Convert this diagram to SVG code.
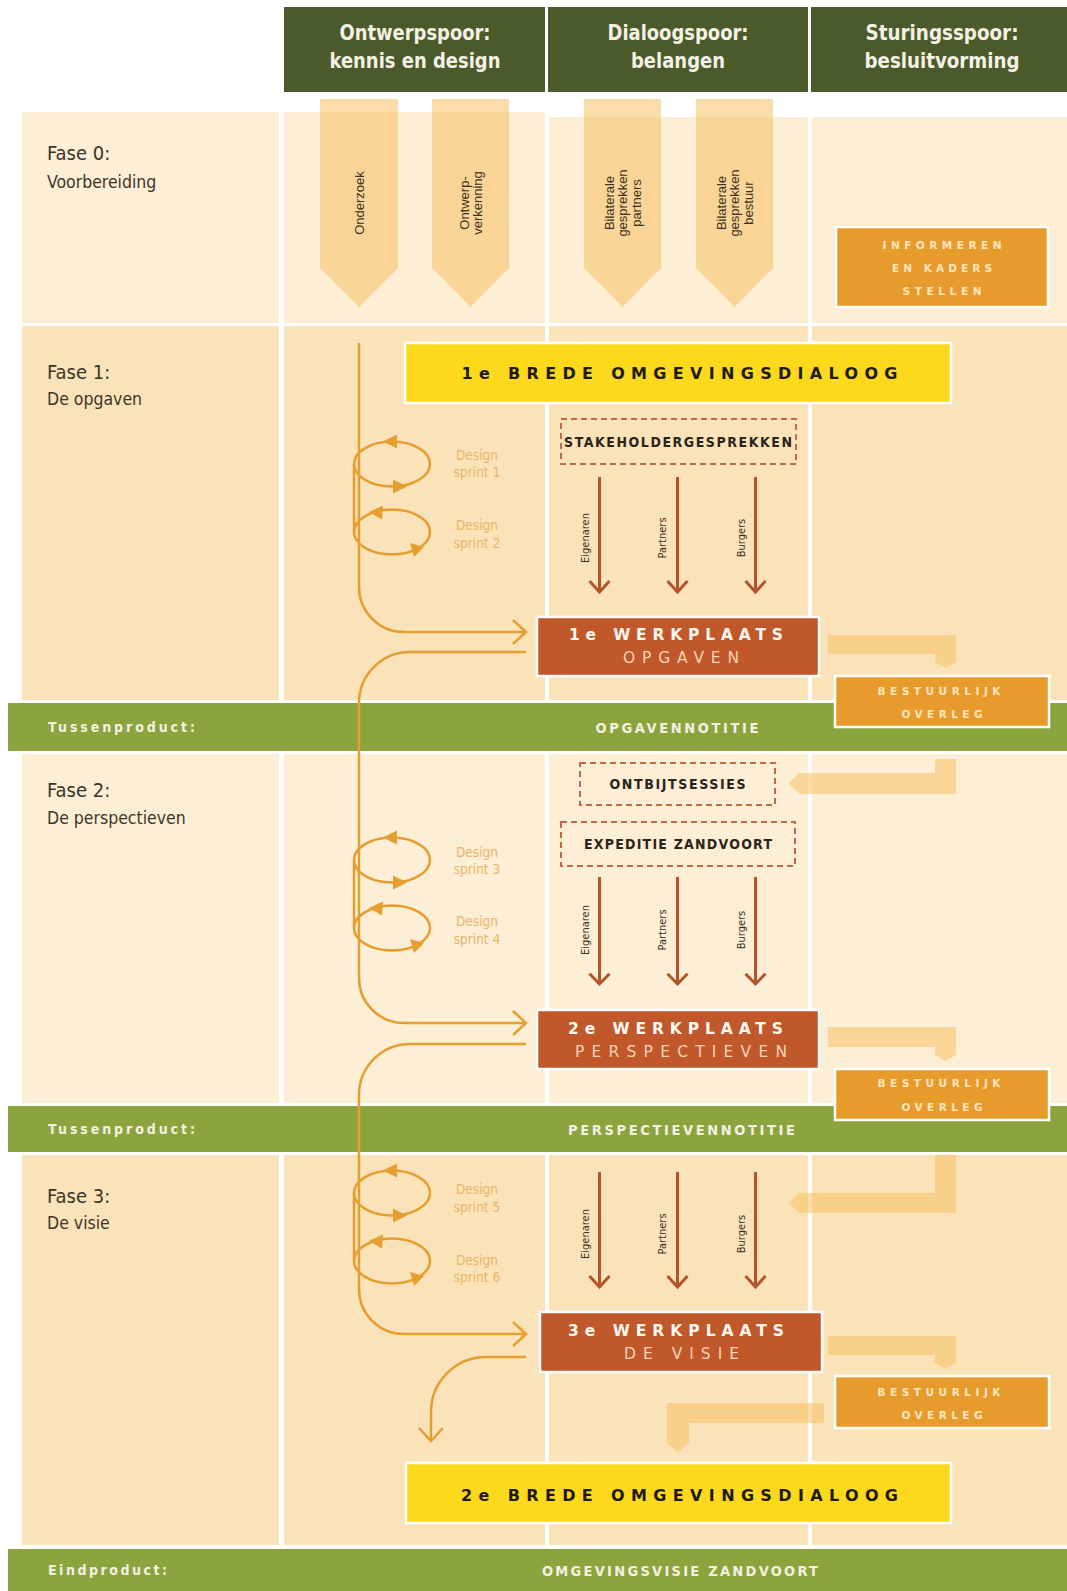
<svg xmlns="http://www.w3.org/2000/svg" width="1067" height="1591" viewBox="0 0 1067 1591">
<defs>
<style>
.l0{fill:#fdeed6}
.dk{fill:#fbe3b9}
.band{fill:#8ba43e}
.hdr{fill:#4b5a2b}
.hdrt{font-family:'DejaVu Sans Condensed','Liberation Sans',sans-serif;font-weight:bold;font-size:21px;fill:#f4f1e4;text-anchor:middle}
.bandt{font-family:'DejaVu Sans Condensed','Liberation Sans',sans-serif;font-weight:bold;font-size:14px;fill:#f3f1e2}
.bandc{font-size:14.5px;text-anchor:middle}
.fase{font-family:'DejaVu Sans Condensed','Liberation Sans',sans-serif;font-size:20px;fill:#3b3527}
.fsub{font-size:17.5px}
.ghost{fill:#f5c165;opacity:.55}
.ght{font-family:'Liberation Sans',Arial,sans-serif;font-size:13px;fill:#3b3020;text-anchor:middle}
.orbox{fill:#e89b2d;stroke:#fff;stroke-width:2.5}
.ort{font-family:'DejaVu Sans','Liberation Sans',sans-serif;font-weight:bold;font-size:10.5px;fill:#fde6bf;text-anchor:middle}
.ybox{fill:#fdd91d;stroke:#fff;stroke-width:2.5}
.yt{font-family:'DejaVu Sans','Liberation Sans',sans-serif;font-weight:bold;font-size:16px;fill:#1f1a10;text-anchor:middle}
.dash{fill:none;stroke:#bf6b47;stroke-width:2;stroke-dasharray:6 4}
.dt{font-family:'DejaVu Sans Condensed','Liberation Sans',sans-serif;font-weight:bold;font-size:14px;fill:#2a241a;text-anchor:middle}
.wp{fill:#c0582b;stroke:#fff;stroke-width:2.5}
.wt1{font-family:'DejaVu Sans','Liberation Sans',sans-serif;font-weight:bold;font-size:15.5px;fill:#fff8f0;text-anchor:middle}
.wt2{font-family:'DejaVu Sans','Liberation Sans',sans-serif;font-size:15.5px;fill:#f6d3b9;text-anchor:middle}
.flow{fill:none;stroke:#e59e2f;stroke-width:2.5}
.fh{fill:#e59e2f}
.br{fill:none;stroke:#b3542b;stroke-width:3}
.rot{font-family:'DejaVu Sans Condensed','Liberation Sans',sans-serif;font-size:11px;fill:#3b3020;text-anchor:middle}
.spr{font-family:'DejaVu Sans Condensed','Liberation Sans',sans-serif;font-size:13.5px;fill:#eab566;text-anchor:middle}
</style>
<g id="loopPair">
<ellipse class="flow" cx="392" cy="464" rx="38" ry="22.5"/>
<ellipse class="flow" cx="392" cy="532" rx="38" ry="22.5"/>
<path class="flow" d="M354,464 V532"/>
<path class="fh" d="M383,441.5 L397,434.5 L397,448.5 Z"/>
<path class="fh" d="M407,486.5 L393,479.5 L393,493.5 Z"/>
<path class="fh" d="M369,512 L383,505.5 L382,519.5 Z"/>
<path class="fh" d="M424,547 L410,543 L414,557 Z"/>
</g>
<g id="brownTrio">
<path class="br" d="M599.5,0 V115 M589.5,104 L599.5,115 L609.5,104"/>
<path class="br" d="M677.5,0 V115 M667.5,104 L677.5,115 L687.5,104"/>
<path class="br" d="M755.5,0 V115 M745.5,104 L755.5,115 L765.5,104"/>
</g>
</defs>
<rect width="1067" height="1591" fill="#fff"/>

<g id="backgrounds">
<rect class="l0" x="22" y="112" width="257" height="211"/>
<rect class="l0" x="284" y="112" width="261" height="211"/>
<rect class="l0" x="549" y="117" width="259" height="206"/>
<rect class="l0" x="812" y="117" width="255" height="206"/>
<rect class="dk" x="22" y="326" width="257" height="374"/>
<rect class="dk" x="284" y="326" width="261" height="374"/>
<rect class="dk" x="549" y="326" width="259" height="374"/>
<rect class="dk" x="812" y="326" width="255" height="374"/>
<rect class="l0" x="22" y="754" width="257" height="349"/>
<rect class="l0" x="284" y="754" width="261" height="349"/>
<rect class="l0" x="549" y="754" width="259" height="349"/>
<rect class="l0" x="812" y="754" width="255" height="349"/>
<rect class="dk" x="22" y="1155" width="257" height="390"/>
<rect class="dk" x="284" y="1155" width="261" height="390"/>
<rect class="dk" x="549" y="1155" width="259" height="390"/>
<rect class="dk" x="812" y="1155" width="255" height="390"/>
</g>

<g id="headers">
<rect class="hdr" x="284" y="7" width="261" height="85"/>
<rect class="hdr" x="548" y="7" width="260" height="85"/>
<rect class="hdr" x="811" y="7" width="256" height="85"/>
<text class="hdrt" x="415" y="40" textLength="151" lengthAdjust="spacingAndGlyphs">Ontwerpspoor:</text>
<text class="hdrt" x="415" y="68" textLength="171" lengthAdjust="spacingAndGlyphs">kennis en design</text>
<text class="hdrt" x="678" y="40" textLength="141" lengthAdjust="spacingAndGlyphs">Dialoogspoor:</text>
<text class="hdrt" x="678" y="68" textLength="94" lengthAdjust="spacingAndGlyphs">belangen</text>
<text class="hdrt" x="942" y="40" textLength="153" lengthAdjust="spacingAndGlyphs">Sturingsspoor:</text>
<text class="hdrt" x="942" y="68" textLength="155" lengthAdjust="spacingAndGlyphs">besluitvorming</text>
</g>

<g id="phase-labels">
<text class="fase" x="47" y="160">Fase 0:</text>
<text class="fase fsub" x="47" y="188">Voorbereiding</text>
<text class="fase" x="47" y="379">Fase 1:</text>
<text class="fase fsub" x="47" y="405">De opgaven</text>
<text class="fase" x="47" y="797">Fase 2:</text>
<text class="fase fsub" x="47" y="824">De perspectieven</text>
<text class="fase" x="47" y="1203">Fase 3:</text>
<text class="fase fsub" x="47" y="1229">De visie</text>
</g>

<g id="onderzoek">
<polygon class="ghost" points="320,99 398,99 398,268 359,307 320,268"/>
<text class="ght" transform="translate(359,203) rotate(-90)" y="4.5">Onderzoek</text>
</g>
<g id="ontwerpverkenning">
<polygon class="ghost" points="432,99 509,99 509,268 470.5,307 432,268"/>
<text class="ght" transform="translate(470.5,203) rotate(-90)"><tspan x="0" y="-2">Ontwerp-</tspan><tspan x="0" y="11.5">verkenning</tspan></text>
</g>
<g id="bilateraal-partners">
<polygon class="ghost" points="584,99 661,99 661,268 622.5,307 584,268"/>
<text class="ght" transform="translate(622.5,203) rotate(-90)"><tspan x="0" y="-9">Bilaterale</tspan><tspan x="0" y="4.5">gesprekken</tspan><tspan x="0" y="18">partners</tspan></text>
</g>
<g id="bilateraal-bestuur">
<polygon class="ghost" points="696,99 773,99 773,268 734.5,307 696,268"/>
<text class="ght" transform="translate(734.5,203) rotate(-90)"><tspan x="0" y="-9">Bilaterale</tspan><tspan x="0" y="4.5">gesprekken</tspan><tspan x="0" y="18">bestuur</tspan></text>
</g>

<g id="bands">
<rect class="band" x="8" y="703" width="1059" height="48"/>
<rect class="band" x="8" y="1106" width="1059" height="46"/>
<rect class="band" x="8" y="1549" width="1059" height="42"/>
<text class="bandt" x="48" y="732" textLength="147" lengthAdjust="spacing">Tussenproduct:</text>
<text class="bandt bandc" x="677" y="732.5" textLength="163" lengthAdjust="spacing">OPGAVENNOTITIE</text>
<text class="bandt" x="48" y="1134" textLength="147" lengthAdjust="spacing">Tussenproduct:</text>
<text class="bandt bandc" x="681.5" y="1134.5" textLength="227" lengthAdjust="spacing">PERSPECTIEVENNOTITIE</text>
<text class="bandt" x="48" y="1575" textLength="119" lengthAdjust="spacing">Eindproduct:</text>
<text class="bandt bandc" x="680" y="1575.5" textLength="276" lengthAdjust="spacing">OMGEVINGSVISIE ZANDVOORT</text>
</g>

<g id="connectors">
<polygon class="ghost" points="828,635 956,635 956,662 945.5,668 935,662 935,654 828,654"/>
<polygon class="ghost" points="935,759 956,759 956,794 799,794 789,783.5 799,773 935,773"/>
<polygon class="ghost" points="828,1027 956,1027 956,1055 945.5,1061 935,1055 935,1047 828,1047"/>
<polygon class="ghost" points="935,1155 956,1155 956,1213 799,1213 789,1203 799,1193 935,1193"/>
<polygon class="ghost" points="828,1336 956,1336 956,1363 945.5,1369 935,1363 935,1355 828,1355"/>
<polygon class="ghost" points="824,1403 824,1423 689,1423 689,1443 678,1452 667,1443 667,1403"/>
<path class="flow" d="M359,343 V587 A45,45 0 0 0 404,632 H524 M513,620 L526,632 L513,644"/>
<path class="flow" d="M526,652 H410 A51,51 0 0 0 359,703 V978 A45,45 0 0 0 404,1023 H524 M513,1011 L526,1023 L513,1035"/>
<path class="flow" d="M526,1044 H410 A51,51 0 0 0 359,1095 V1289 A45,45 0 0 0 404,1334 H524 M513,1322 L526,1334 L513,1346"/>
<path class="flow" d="M526,1357 H486 A55,55 0 0 0 431,1412 V1440 M419,1428 L431,1441 L443,1428"/>
<use href="#loopPair"/>
<use href="#loopPair" transform="translate(0,396)"/>
<use href="#loopPair" transform="translate(0,729)"/>
<use href="#brownTrio" transform="translate(0,477)"/>
<use href="#brownTrio" transform="translate(0,877) scale(1,0.93)"/>
<use href="#brownTrio" transform="translate(0,1172)"/>
</g>

<g id="sprint-labels">
<text class="spr" x="477" y="460">Design</text><text class="spr" x="477" y="477">sprint 1</text>
<text class="spr" x="477" y="530">Design</text><text class="spr" x="477" y="548">sprint 2</text>
<text class="spr" x="477" y="857">Design</text><text class="spr" x="477" y="874">sprint 3</text>
<text class="spr" x="477" y="926">Design</text><text class="spr" x="477" y="944">sprint 4</text>
<text class="spr" x="477" y="1194">Design</text><text class="spr" x="477" y="1212">sprint 5</text>
<text class="spr" x="477" y="1265">Design</text><text class="spr" x="477" y="1282">sprint 6</text>
</g>

<g id="stakeholder-labels">
<text class="rot" transform="translate(589,538) rotate(-90)">Eigenaren</text>
<text class="rot" transform="translate(666,538) rotate(-90)">Partners</text>
<text class="rot" transform="translate(745,538) rotate(-90)">Burgers</text>
<text class="rot" transform="translate(589,930) rotate(-90)">Eigenaren</text>
<text class="rot" transform="translate(666,930) rotate(-90)">Partners</text>
<text class="rot" transform="translate(745,930) rotate(-90)">Burgers</text>
<text class="rot" transform="translate(589,1234) rotate(-90)">Eigenaren</text>
<text class="rot" transform="translate(666,1234) rotate(-90)">Partners</text>
<text class="rot" transform="translate(745,1234) rotate(-90)">Burgers</text>
</g>

<g id="informeren">
<rect class="orbox" x="836" y="227" width="212" height="80"/>
<text class="ort" x="942" y="249" textLength="119" lengthAdjust="spacing">INFORMEREN</text>
<text class="ort" x="942" y="272" textLength="100" lengthAdjust="spacing">EN KADERS</text>
<text class="ort" x="942" y="295" textLength="79" lengthAdjust="spacing">STELLEN</text>
</g>

<g id="brede-dialoog-1">
<rect class="ybox" x="405" y="343" width="546" height="60"/>
<text class="yt" x="679.5" y="379" textLength="436" lengthAdjust="spacing">1e BREDE OMGEVINGSDIALOOG</text>
</g>

<g id="stakeholdergesprekken">
<rect class="dash" x="561" y="419" width="235" height="45"/>
<text class="dt" x="678" y="446.5" textLength="228" lengthAdjust="spacing">STAKEHOLDERGESPREKKEN</text>
</g>

<g id="werkplaats-1">
<rect class="wp" x="537" y="617" width="282" height="59"/>
<text class="wt1" x="676" y="640" textLength="214" lengthAdjust="spacing">1e WERKPLAATS</text>
<text class="wt2" x="681" y="663" textLength="116" lengthAdjust="spacing">OPGAVEN</text>
</g>

<g id="bestuurlijk-overleg-1">
<rect class="orbox" x="835" y="676" width="214" height="51"/>
<text class="ort" x="939" y="695" textLength="123" lengthAdjust="spacing">BESTUURLIJK</text>
<text class="ort" x="942" y="718" textLength="81" lengthAdjust="spacing">OVERLEG</text>
</g>

<g id="ontbijtsessies">
<rect class="dash" x="580" y="763" width="195" height="42"/>
<text class="dt" x="677.5" y="788.5" textLength="136" lengthAdjust="spacing">ONTBIJTSESSIES</text>
</g>

<g id="expeditie">
<rect class="dash" x="561" y="822" width="234" height="44"/>
<text class="dt" x="678" y="848.5" textLength="188" lengthAdjust="spacing">EXPEDITIE ZANDVOORT</text>
</g>

<g id="werkplaats-2">
<rect class="wp" x="537" y="1010" width="282" height="59"/>
<text class="wt1" x="675.5" y="1034" textLength="215" lengthAdjust="spacing">2e WERKPLAATS</text>
<text class="wt2" x="681" y="1057" textLength="212" lengthAdjust="spacing">PERSPECTIEVEN</text>
</g>

<g id="bestuurlijk-overleg-2">
<rect class="orbox" x="835" y="1069" width="214" height="51"/>
<text class="ort" x="939" y="1087" textLength="123" lengthAdjust="spacing">BESTUURLIJK</text>
<text class="ort" x="942" y="1111" textLength="81" lengthAdjust="spacing">OVERLEG</text>
</g>

<g id="werkplaats-3">
<rect class="wp" x="540" y="1312" width="282" height="60"/>
<text class="wt1" x="676" y="1336" textLength="216" lengthAdjust="spacing">3e WERKPLAATS</text>
<text class="wt2" x="681.5" y="1359" textLength="115" lengthAdjust="spacing">DE VISIE</text>
</g>

<g id="bestuurlijk-overleg-3">
<rect class="orbox" x="835" y="1376" width="214" height="52"/>
<text class="ort" x="939" y="1396" textLength="123" lengthAdjust="spacing">BESTUURLIJK</text>
<text class="ort" x="942" y="1419" textLength="81" lengthAdjust="spacing">OVERLEG</text>
</g>

<g id="brede-dialoog-2">
<rect class="ybox" x="406" y="1463" width="545" height="60"/>
<text class="yt" x="679.5" y="1501" textLength="437" lengthAdjust="spacing">2e BREDE OMGEVINGSDIALOOG</text>
</g>
</svg>
